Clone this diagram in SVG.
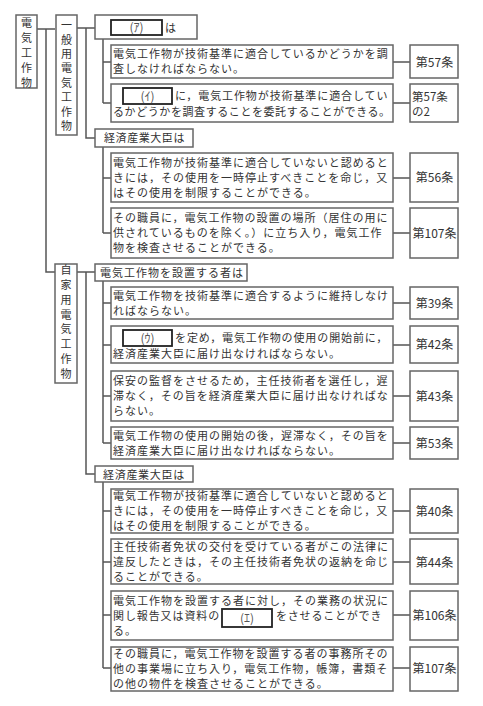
<svg xmlns="http://www.w3.org/2000/svg" width="483" height="706" viewBox="0 0 483 706">
<style>
.bx{fill:#fff;stroke:#666;stroke-width:1.5}
.blank{fill:#fff;stroke:#222;stroke-width:1.8}
.t{font-family:"Noto Sans CJK JP","Noto Sans CJK SC",sans-serif;font-size:11px;letter-spacing:1px;fill:#333}
.v{writing-mode:tb;font-family:"Noto Sans CJK JP","Noto Sans CJK SC",sans-serif;font-size:11px;fill:#333}
.a{font-family:"Noto Sans CJK JP","Noto Sans CJK SC",sans-serif;font-size:12px;fill:#333}
.a2{font-family:"Noto Sans CJK JP","Noto Sans CJK SC",sans-serif;font-size:11.5px;fill:#333}
.lbl{font-family:"Noto Sans CJK JP",sans-serif;font-size:12px;fill:#555}
.mid{text-anchor:middle}
.c{fill:none;stroke:#555;stroke-width:1.5}
</style>
<rect width="483" height="706" fill="#fff"/>
<g id="connectors">
<path class="c" d="M37,29H55 M46,29V272H55"/>
<path class="c" d="M77,28H95 M86,28V138H95"/>
<path class="c" d="M103,39V103 M103,62H111 M103,103H111 M393,62H410 M393,103H410"/>
<path class="c" d="M103,147V233 M103,178H111 M103,233H111 M393,178H410 M393,233H410"/>
<path class="c" d="M77,272H95 M86,272V474H95"/>
<path class="c" d="M103,281V443 M103,303H111 M103,345H111 M103,396H111 M103,443H111 M393,303H410 M393,345H410 M393,396H410 M393,443H410"/>
<path class="c" d="M103,482V668 M103,511H111 M103,562H111 M103,615H111 M103,668H111 M393,511H410 M393,562H410 M393,615H410 M393,668H410"/>
</g>
<g id="root">
<rect class="bx" x="16" y="15" width="21" height="73"/>
<text class="v" x="26.5" y="17.5" style="letter-spacing:4px">電気工作物</text>
</g>
<g id="general">
<rect class="bx" x="56" y="15" width="21" height="120"/>
<text class="v" x="66.5" y="19.5" style="letter-spacing:3.4px">一般用電気工作物</text>
</g>
<g id="private">
<rect class="bx" x="55" y="264" width="22" height="119"/>
<text class="v" x="66" y="264.5" style="letter-spacing:3.8px">自家用電気工作物</text>
</g>
<g id="h-a">
<rect class="bx" x="95" y="15" width="102" height="24"/>
<rect class="blank" x="111" y="20" width="51" height="15"/>
<text class="lbl mid" x="136.5" y="32">(ｱ)</text>
<text class="t" x="165" y="31.5">は</text>
</g>
<g id="n57">
<rect class="bx" x="111" y="45" width="282" height="33"/>
<text class="t"><tspan x="113" y="58">電気工作物が技術基準に適合しているかどうかを調</tspan><tspan x="113" y="73">査しなければならない。</tspan></text>
<rect class="bx" x="410" y="45" width="48" height="33"/>
<text class="a mid" x="434.5" y="66.5">第57条</text>
</g>
<g id="n57-2">
<rect class="bx" x="111" y="84" width="282" height="38"/>
<rect class="blank" x="123" y="88" width="49" height="16"/>
<text class="lbl mid" x="147.5" y="100.5">(ｲ)</text>
<text class="t"><tspan x="175" y="100" style="letter-spacing:0.9px">に，電気工作物が技術基準に適合してい</tspan><tspan x="113" y="116" style="letter-spacing:0.58px">るかどうかを調査することを委託することができる。</tspan></text>
<rect class="bx" x="410" y="84" width="48" height="38"/>
<text class="a2"><tspan x="412" y="100.5">第57条</tspan><tspan x="412" y="116">の2</tspan></text>
</g>
<g id="h-minister1">
<rect class="bx" x="95" y="129" width="98" height="18"/>
<text class="t" x="104" y="142" style="letter-spacing:0.57px">経済産業大臣は</text>
</g>
<g id="n56">
<rect class="bx" x="111" y="153" width="282" height="49"/>
<text class="t"><tspan x="113" y="167">電気工作物が技術基準に適合していないと認めると</tspan><tspan x="113" y="182">きには，その使用を一時停止すべきことを命じ，又</tspan><tspan x="113" y="197">はその使用を制限することができる。</tspan></text>
<rect class="bx" x="410" y="153" width="48" height="49"/>
<text class="a mid" x="434.5" y="182">第56条</text>
</g>
<g id="n107a">
<rect class="bx" x="111" y="208" width="282" height="50"/>
<text class="t"><tspan x="113" y="222">その職員に，電気工作物の設置の場所（居住の用に</tspan><tspan x="113" y="237">供されているものを除く。）に立ち入り，電気工作</tspan><tspan x="113" y="252">物を検査させることができる。</tspan></text>
<rect class="bx" x="410" y="208" width="48" height="50"/>
<text class="a mid" x="434.5" y="237.5">第107条</text>
</g>
<g id="h-installer">
<rect class="bx" x="95" y="264" width="152" height="17"/>
<text class="t" x="100" y="276.5">電気工作物を設置する者は</text>
</g>
<g id="n39">
<rect class="bx" x="111" y="287" width="282" height="32"/>
<text class="t"><tspan x="113" y="299.5">電気工作物を技術基準に適合するように維持しなけ</tspan><tspan x="113" y="314.5">ればならない。</tspan></text>
<rect class="bx" x="410" y="287" width="48" height="32"/>
<text class="a mid" x="434.5" y="307.5">第39条</text>
</g>
<g id="n42">
<rect class="bx" x="111" y="326" width="282" height="37"/>
<rect class="blank" x="123" y="330" width="49" height="16"/>
<text class="lbl mid" x="147.5" y="342.5">(ｳ)</text>
<text class="t"><tspan x="175" y="342" style="letter-spacing:0.9px">を定め，電気工作物の使用の開始前に，</tspan><tspan x="113" y="358">経済産業大臣に届け出なければならない。</tspan></text>
<rect class="bx" x="410" y="326" width="48" height="37"/>
<text class="a mid" x="434.5" y="349">第42条</text>
</g>
<g id="n43">
<rect class="bx" x="111" y="371" width="282" height="50"/>
<text class="t"><tspan x="113" y="385">保安の監督をさせるため，主任技術者を選任し，遅</tspan><tspan x="113" y="400">滞なく，その旨を経済産業大臣に届け出なければな</tspan><tspan x="113" y="415">らない。</tspan></text>
<rect class="bx" x="410" y="371" width="48" height="50"/>
<text class="a mid" x="434.5" y="400.5">第43条</text>
</g>
<g id="n53">
<rect class="bx" x="111" y="427" width="282" height="32"/>
<text class="t"><tspan x="113" y="439.5">電気工作物の使用の開始の後，遅滞なく，その旨を</tspan><tspan x="113" y="454.5">経済産業大臣に届け出なければならない。</tspan></text>
<rect class="bx" x="410" y="427" width="48" height="32"/>
<text class="a mid" x="434.5" y="447.5">第53条</text>
</g>
<g id="h-minister2">
<rect class="bx" x="95" y="466" width="98" height="16"/>
<text class="t" x="103" y="478.5" style="letter-spacing:0.7px">経済産業大臣は</text>
</g>
<g id="n40">
<rect class="bx" x="111" y="489" width="282" height="44"/>
<text class="t"><tspan x="113" y="500">電気工作物が技術基準に適合していないと認めると</tspan><tspan x="113" y="515">きには，その使用を一時停止すべきことを命じ，又</tspan><tspan x="113" y="530">はその使用を制限することができる。</tspan></text>
<rect class="bx" x="410" y="489" width="48" height="44"/>
<text class="a mid" x="434.5" y="515.5">第40条</text>
</g>
<g id="n44">
<rect class="bx" x="111" y="539" width="282" height="45"/>
<text class="t"><tspan x="113" y="550.5">主任技術者免状の交付を受けている者がこの法律に</tspan><tspan x="113" y="565.5">違反したときは，その主任技術者免状の返納を命じ</tspan><tspan x="113" y="580.5">ることができる。</tspan></text>
<rect class="bx" x="410" y="539" width="48" height="45"/>
<text class="a mid" x="434.5" y="566.5">第44条</text>
</g>
<g id="n106">
<rect class="bx" x="111" y="591" width="282" height="49"/>
<rect class="blank" x="222" y="609" width="50" height="18"/>
<text class="lbl mid" x="247" y="622.5">(ｴ)</text>
<text class="t"><tspan x="113" y="604.5">電気工作物を設置する者に対し，その業務の状況に</tspan><tspan x="113" y="619.5" style="letter-spacing:0.9px">関し報告又は資料の</tspan><tspan x="276" y="619.5" style="letter-spacing:0.8px">をさせることができ</tspan><tspan x="113" y="634.5">る。</tspan></text>
<rect class="bx" x="410" y="591" width="48" height="49"/>
<text class="a mid" x="434.5" y="619.5">第106条</text>
</g>
<g id="n107b">
<rect class="bx" x="111" y="647" width="282" height="44"/>
<text class="t"><tspan x="113" y="658">その職員に，電気工作物を設置する者の事務所その</tspan><tspan x="113" y="673">他の事業場に立ち入り，電気工作物，帳簿，書類そ</tspan><tspan x="113" y="688">の他の物件を検査させることができる。</tspan></text>
<rect class="bx" x="410" y="647" width="48" height="44"/>
<text class="a mid" x="434.5" y="672.5">第107条</text>
</g>
</svg>
